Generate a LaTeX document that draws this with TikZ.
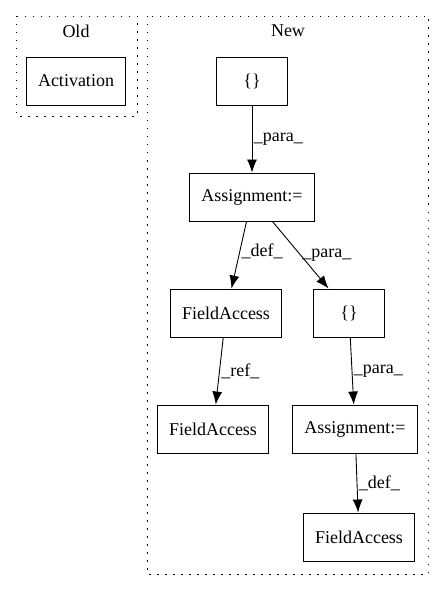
\documentclass[tikz,border=0pt]{standalone}
\usepackage{fontspec}
\setmainfont{Liberation Serif}
\usetikzlibrary{shapes,arrows.meta}
\tikzset{
	block/.style   = {draw, rectangle, minimum height = 48pt,
		minimum width = 71pt, inner xsep = 11.5pt},
	cluster/.style = {draw, dash pattern = on 1.5pt off 6.5pt},
	lbl/.style     = {right, inner sep = 1.5pt}
}

\begin{document}
\begin{tikzpicture}[x=1pt, y=-1pt, line width=0.9pt, >={Latex[length=13pt,width=10pt]},
	font=\fontsize{18}{22}\selectfont]
	\useasboundingbox (0,0) rectangle (445,596);

	\draw[cluster] (16,16) rectangle (137,116);
	\draw[cluster] (147,16) rectangle (428,574);

	\draw
	node at (76,31) (old) {Old}
	node at (288,31) (new) {New}
	node at (76,81) [block] (act) {Activation}
	node at (252,81) [block] (b1) {\{\}}
	node at (252,197) [block] (as1) {Assignment:=}
	node at (226,313) [block] (fa1) {FieldAccess}
	node at (349,313) [block] (b2) {\{\}}
	node at (213,429) [block] (fa2) {FieldAccess}
	node at (355,429) [block] (as2) {Assignment:=}
	node at (359,537) [block] (fa3) {FieldAccess};

	\draw[->](b1) -- node[lbl, pos=0.5] {\_para\_} (as1);
	\draw[->](as1) -- node[lbl, pos=0.45] {\_def\_} (fa1);
	\draw[->](as1) -- node[lbl, pos=0.5] {\_para\_} (b2);
	\draw[->](fa1) -- node[lbl, pos=0.5] {\_ref\_} (fa2);
	\draw[->](b2) -- node[lbl, pos=0.5] {\_para\_} (as2);
	\draw[->](as2) -- node[lbl, pos=0.5] {\_def\_} (fa3);

\end{tikzpicture}
\end{document}
